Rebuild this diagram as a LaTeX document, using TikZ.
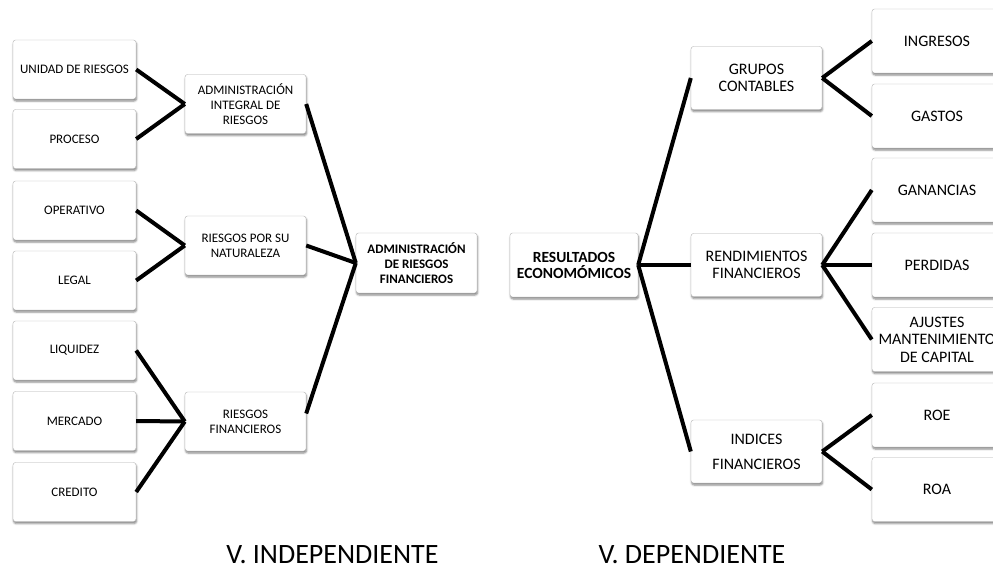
\documentclass[tikz,border=0pt]{standalone}
\usepackage{fontspec}
\setmainfont{Carlito}
\usetikzlibrary{shadows.blur}

\tikzset{
  box/.style={draw=gray!60, fill=white, rounded corners=2.5pt, align=center,
    inner sep=1pt, blur shadow={shadow xshift=0.6pt, shadow yshift=-2pt, shadow blur steps=4, shadow opacity=50}},
  leftleaf/.style={box, minimum width=123pt, minimum height=59pt, font=\fontsize{13}{15}\selectfont},
  leftmid/.style={box, minimum width=121pt, minimum height=59pt, font=\fontsize{13}{15}\selectfont},
  rightleaf/.style={box, minimum width=130pt, minimum height=64pt, font=\fontsize{16}{17.5}\selectfont},
  rightmid/.style={box, minimum width=131pt, minimum height=63pt, font=\fontsize{16}{17}\selectfont},
  link/.style={line width=4pt, line cap=butt, line join=miter},
  caption/.style={font=\fontsize{28}{30}\selectfont, anchor=base}
}

\begin{document}
\begin{tikzpicture}[x=1pt,y=-1pt]
\useasboundingbox (0,0) rectangle (993,570);
\clip (0,0) rectangle (993,570);

% Independent variable
\foreach \name/\txt/\y in {unidad/UNIDAD DE RIESGOS/69.5, proceso/PROCESO/139,
    operativo/OPERATIVO/210.5, legal/LEGAL/280.5, liquidez/LIQUIDEZ/350.5,
    mercado/MERCADO/421, credito/CREDITO/492} {
    \node[leftleaf] (\name) at (74.5,\y) {\txt};
}
\node[leftmid] (integral) at (245.5,104) {ADMINISTRACIÓN\\INTEGRAL DE\\RIESGOS};
\node[leftmid] (naturaleza) at (245.5,245.5) {RIESGOS POR SU\\NATURALEZA};
\node[leftmid] (financieros) at (245.5,421.5) {RIESGOS\\FINANCIEROS};
\node[box, minimum width=121pt, minimum height=60pt, font=\fontsize{13}{15}\selectfont\bfseries]
    (admin) at (416.5,263) {ADMINISTRACIÓN\\DE RIESGOS\\FINANCIEROS};

% Dependent variable
\node[box, minimum width=128pt, minimum height=64pt, font=\fontsize{15.5}{16}\selectfont\bfseries]
    (resultados) at (574,265) {RESULTADOS\\ECONOMÓMICOS};
\node[rightmid] (grupos) at (756.5,78) {GRUPOS\\CONTABLES};
\node[rightmid] (rendimientos) at (756.5,265) {RENDIMIENTOS\\FINANCIEROS};
\node[rightmid, font=\fontsize{16}{25}\selectfont] (indices) at (756.5,451.5) {INDICES\\FINANCIEROS};
\foreach \name/\txt/\y in {ingresos/INGRESOS/41, gastos/GASTOS/116, ganancias/GANANCIAS/190,
    perdidas/PERDIDAS/265, ajustes/AJUSTES\\MANTENIMIENTO\\DE CAPITAL/339.5,
    roe/ROE/415, roa/ROA/489.5} {
    \node[rightleaf] (\name) at (937,\y) {\txt};
}

% Links
\foreach \a/\b in {unidad/integral, proceso/integral, operativo/naturaleza, legal/naturaleza,
    liquidez/financieros, mercado/financieros, credito/financieros,
    integral/admin, naturaleza/admin,
    resultados/grupos, resultados/rendimientos, resultados/indices,
    grupos/ingresos, grupos/gastos, rendimientos/ganancias, rendimientos/perdidas,
    rendimientos/ajustes, indices/roe, indices/roa} {
    \draw[link] (\a.east) -- (\b.west);
}
\draw[link] ([yshift=8pt]financieros.east) -- (admin.west);

\node[caption] (indep) at (332.5,563) {V. INDEPENDIENTE};
\node[caption] (dep) at (692,563) {V. DEPENDIENTE};
\end{tikzpicture}
\end{document}
